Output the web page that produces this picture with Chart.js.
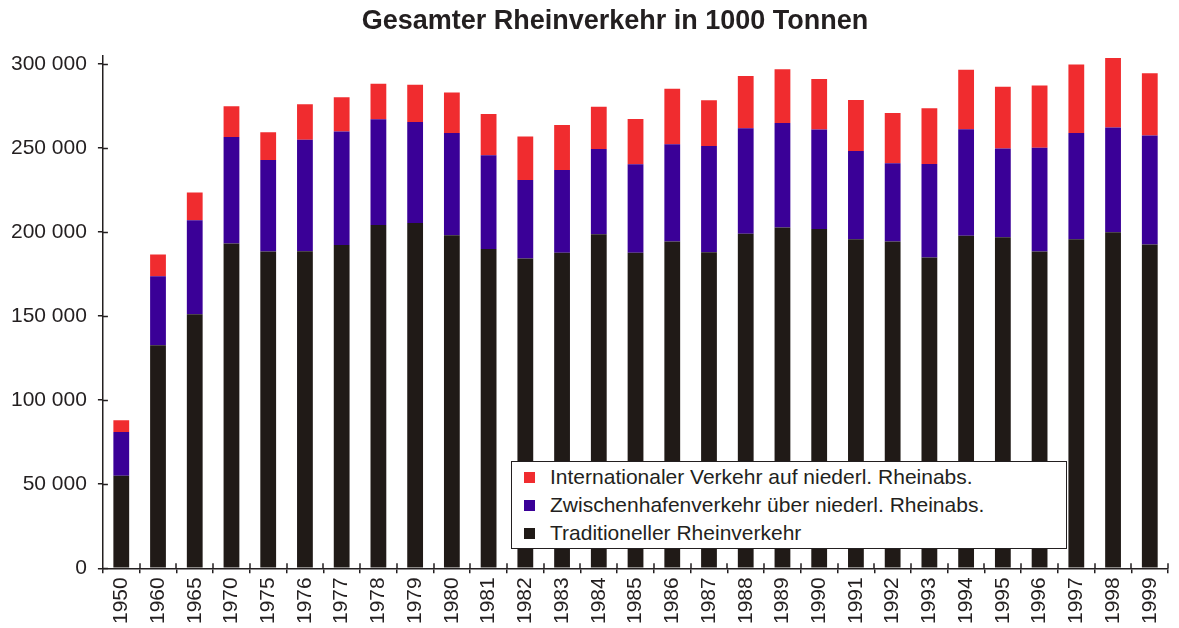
<!DOCTYPE html>
<html>
<head>
<meta charset="utf-8">
<script src="https://cdn.jsdelivr.net/npm/chart.js@4.4.0/dist/chart.umd.min.js"></script>
<style>
  body { margin: 0; background: #fff; }
  #wrap { position: relative; width: 1179px; height: 628px; }
  #legend {
    position: absolute; left: 511px; top: 461px; width: 554px; height: 86px;
    background: #fff; border: 1.5px solid #231f20;
    font-family: "Liberation Sans", Arial, sans-serif; font-size: 21px; color: #231f20;
  }
  #legend .row { position: absolute; left: 0; height: 26px; line-height: 26px; white-space: nowrap; }
  #legend .box { position: absolute; left: 12px; top: 8px; width: 11px; height: 11px; }
  #legend .txt { position: absolute; left: 38px; top: 0; }
</style>
</head>
<body>
<div id="wrap">
  <canvas id="myChart" width="1179" height="628"></canvas>
  <div id="legend"></div>
</div>
<script>
// Gesamter Rheinverkehr in 1000 Tonnen
var years = ['1950', '1960', '1965', '1970', '1975', '1976', '1977', '1978', '1979', '1980',
  '1981', '1982', '1983', '1984', '1985', '1986', '1987', '1988', '1989', '1990',
  '1991', '1992', '1993', '1994', '1995', '1996', '1997', '1998', '1999'];

var traditionell = [55100, 132600, 151000, 193100, 188400, 188600, 192300, 204100, 205300, 198100,
  189800, 184200, 187600, 198700, 187600, 194300, 188000, 198900, 202700, 201700,
  195700, 194300, 184800, 197700, 196900, 188400, 195700, 199900, 192600];

var zwischenhafen = [26000, 41100, 56000, 63400, 54400, 66300, 67400, 62900, 60100, 60800,
  55800, 46700, 49200, 50600, 52600, 57800, 63100, 62800, 62100, 59200,
  52400, 46500, 55600, 63400, 52800, 61700, 63200, 62200, 64700];

var international = [7000, 12900, 16500, 18300, 16500, 21100, 20400, 21100, 22100, 24000,
  24600, 25800, 26800, 25100, 27000, 33000, 27200, 31100, 32000, 30000,
  30400, 30000, 33200, 35300, 36600, 37000, 40700, 41300, 37100];

var yTicks = [0, 50000, 100000, 150000, 200000, 250000, 300000];

var ink = '#231f20';
var font = 'Liberation Sans, Arial, sans-serif';

function fmt(v) {
  return String(v).replace(/\B(?=(\d{3})+(?!\d))/g, ' ');
}

// draws the inner half of the axis ticks (they cross the axis line)
var crossTicks = {
  id: 'crossTicks',
  afterLayout: function(chart) {
    // title in the original is centred a bit right of the canvas middle
    if (chart.titleBlock) chart.titleBlock.left = 52;
  },
  afterDraw: function(chart) {
    var ctx = chart.ctx;
    var x = chart.scales.x, y = chart.scales.y;
    ctx.save();
    ctx.strokeStyle = ink;
    ctx.lineWidth = 1.5;
    ctx.beginPath();
    yTicks.forEach(function(v) {
      var py = Math.round(y.getPixelForValue(v)) + 0.5;
      ctx.moveTo(x.left, py);
      ctx.lineTo(x.left + 5, py);
    });
    var w = (x.right - x.left) / years.length;
    for (var i = 1; i <= years.length; i++) {
      var px = Math.round(x.getPixelForValue(i - 1) + w / 2);
      ctx.moveTo(px, y.bottom);
      ctx.lineTo(px, y.bottom - 5);
    }
    ctx.stroke();
    ctx.restore();
  }
};

var datasets = [
  { label: 'Traditioneller Rheinverkehr', data: traditionell, backgroundColor: '#201a17' },
  { label: 'Zwischenhafenverkehr über niederl. Rheinabs.', data: zwischenhafen, backgroundColor: '#3a0097' },
  { label: 'Internationaler Verkehr auf niederl. Rheinabs.', data: international, backgroundColor: '#f02c2f' }
];

var ctx = document.getElementById('myChart').getContext('2d');
var myChart = new Chart(ctx, {
  type: 'bar',
  data: { labels: years, datasets: datasets },
  options: {
    responsive: false,
    animation: false,
    layout: { padding: { left: 0, right: 1, top: 0, bottom: 0 } },
    datasets: { bar: { categoryPercentage: 1, barPercentage: 0.43 } },
    plugins: {
      legend: { display: false },
      tooltip: { enabled: false },
      title: {
        display: true,
        text: 'Gesamter Rheinverkehr in 1000 Tonnen',
        color: ink,
        font: { family: font, size: 27, weight: 'bold' },
        padding: { top: 5, bottom: 18 }
      }
    },
    scales: {
      x: {
        stacked: true,
        grid: { display: true, drawOnChartArea: false, tickLength: 5, color: ink, lineWidth: 1.5 },
        border: { color: ink, width: 1.5 },
        ticks: { color: ink, font: { family: font, size: 21 }, maxRotation: 90, minRotation: 90, padding: 4 }
      },
      y: {
        stacked: true,
        min: 0,
        max: 305000,
        afterBuildTicks: function(scale) {
          scale.ticks = yTicks.map(function(v) { return { value: v }; });
        },
        grid: { display: true, drawOnChartArea: false, tickLength: 5, color: ink, lineWidth: 1.5 },
        border: { color: ink, width: 1.5 },
        ticks: {
          color: ink,
          font: { family: font, size: 21 },
          padding: 11,
          callback: function(v) { return fmt(v); }
        }
      }
    }
  },
  plugins: [crossTicks]
});

// legend box, items in reverse stacking order
var legend = document.getElementById('legend');
datasets.slice().reverse().forEach(function(ds, i) {
  var row = document.createElement('div');
  row.className = 'row';
  row.style.top = (2 + i * 28) + 'px';
  row.innerHTML = '<span class="box" style="background:' + ds.backgroundColor + '"></span>' +
    '<span class="txt">' + ds.label + '</span>';
  legend.appendChild(row);
});
</script>
</body>
</html>
